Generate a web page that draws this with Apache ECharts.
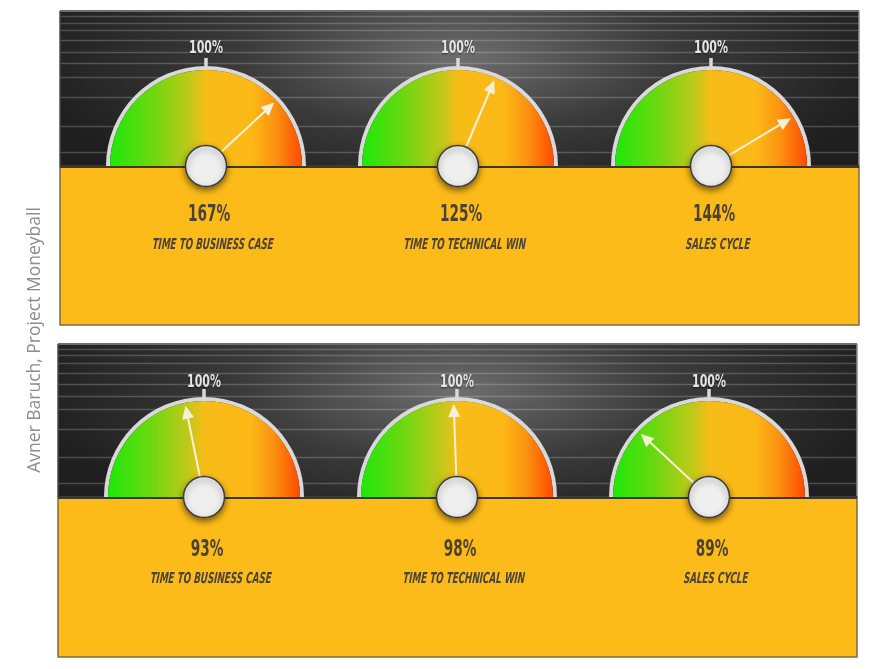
<!DOCTYPE html>
<html>
<head>
<meta charset="utf-8">
<script src="https://cdn.jsdelivr.net/npm/echarts@6/dist/echarts.min.js"></script>
<style>
  html, body { margin: 0; padding: 0; background: #ffffff; }
  #chart { width: 886px; height: 669px; }
</style>
</head>
<body>
<div id="chart"></div>
<script>
// KPI dials: actual duration as a percentage of the 100% target
const categories = ['TIME TO BUSINESS CASE', 'TIME TO TECHNICAL WIN', 'SALES CYCLE'];
const periodA = [167, 125, 144];
const periodB = [93, 98, 89];
// half of each dial's range, centred on the 100% target
const spanA = [128, 98, 67];
const spanB = [55, 90, 21];
const targetLabel = '100%';
const creditText = 'Avner Baruch, Project Moneyball';

// panel layout (pixels)
const panelLayout = [
  { x: 60, y: 11, w: 799, h: 314, base: 166, dialX: [206, 458, 711], valueDy: 49, nameDy: 79, targetDy: -117 },
  { x: 58, y: 344, w: 799, h: 313, base: 497, dialX: [204, 457, 709], valueDy: 53, nameDy: 82, targetDy: -114 }
];
const valueDx = 3;
const nameDx = 7;
const panelValues = [periodA, periodB];
const panelSpans = [spanA, spanB];
// relative heights of the horizontal rules on the dark backdrop
const ruleFractions = [0.032, 0.075, 0.123, 0.19, 0.262, 0.338, 0.425, 0.558, 0.74, 0.91];

const condensed = "'DejaVu Sans Condensed', 'DejaVu Sans', sans-serif";
const DIAL_R = 96;
const RING_W = 4;
const needleIcon = 'path://M6 0 L12 14 L7 14 L7 100 L5 100 L5 14 L0 14 Z';

const chart = echarts.init(document.getElementById('chart'), null, { renderer: 'canvas' });

const graphics = [];

// narrow display text: a regular face squeezed horizontally about its centre
// (negative skewX leans the glyph tops to the right)
function narrowText(x, y, text, font, fill, squeeze, slant, extra) {
  const el = {
    type: 'text', z: 5, x: x, y: y, scaleX: squeeze, skewX: slant || 0,
    style: { text: text, font: font, fill: fill, textAlign: 'center', textVerticalAlign: 'middle' }
  };
  if (extra) Object.assign(el.style, extra);
  graphics.push(el);
}

panelLayout.forEach(function (p) {
  const darkH = p.base - p.y;
  // dark backdrop with a soft spotlight in the middle
  graphics.push({
    type: 'rect', z: 0, x: p.x, y: p.y, scaleX: 3,
    shape: { x: 0, y: 0, width: p.w / 3, height: darkH },
    style: {
      fill: new echarts.graphic.RadialGradient(0.5, 0.3, 0.95, [
        { offset: 0, color: '#6e6e6e' },
        { offset: 0.5, color: '#3a3a3a' },
        { offset: 1, color: '#1f1f1f' }
      ])
    }
  });
  ruleFractions.forEach(function (f) {
    const yy = Math.round(p.y + f * darkH) + 0.5;
    graphics.push({
      type: 'line', z: 0,
      shape: { x1: p.x, y1: yy, x2: p.x + p.w, y2: yy },
      style: { stroke: 'rgba(255,255,255,0.2)', lineWidth: 1.5 }
    });
  });
  // frame of the dark area
  graphics.push({
    type: 'line', z: 0,
    shape: { x1: p.x, y1: p.y, x2: p.x + p.w, y2: p.y },
    style: { stroke: '#6e6e6e', lineWidth: 2 }
  });
  graphics.push({
    type: 'line', z: 0,
    shape: { x1: p.x, y1: p.y, x2: p.x, y2: p.base },
    style: { stroke: '#4a4a4a', lineWidth: 1.5 }
  });
  graphics.push({
    type: 'line', z: 0,
    shape: { x1: p.x + p.w, y1: p.y, x2: p.x + p.w, y2: p.base },
    style: { stroke: '#8c8c8c', lineWidth: 1.5 }
  });
  // yellow lower area
  graphics.push({
    type: 'rect', z: 0,
    shape: { x: p.x, y: p.base, width: p.w, height: p.y + p.h - p.base },
    style: { fill: '#fcbb18', stroke: '#7d6c3e', lineWidth: 1.5 }
  });
  // base line under the dials
  graphics.push({
    type: 'line', z: 1,
    shape: { x1: p.x, y1: p.base + 0.5, x2: p.x + p.w, y2: p.base + 0.5 },
    style: { stroke: '#3a3831', lineWidth: 3 }
  });
});

graphics.push({
  type: 'text', z: 1, x: 35, y: 340, rotation: Math.PI / 2,
  style: {
    text: creditText, fill: '#8c8c8c', font: "17.5px 'Open Sans', sans-serif",
    textAlign: 'center', textVerticalAlign: 'middle'
  }
});

function dialGradient() {
  return new echarts.graphic.LinearGradient(0, 0, 1, 0, [
    { offset: 0, color: '#1ee80a' },
    { offset: 0.22, color: '#6cd80f' },
    { offset: 0.42, color: '#c2c81a' },
    { offset: 0.5, color: '#f7bd17' },
    { offset: 0.74, color: '#fcb817' },
    { offset: 0.86, color: '#fb9310' },
    { offset: 1, color: '#ff4a00' }
  ]);
}

const series = [];
panelLayout.forEach(function (p, pi) {
  const values = panelValues[pi];
  const spans = panelSpans[pi];
  p.dialX.forEach(function (cx, j) {
    const center = [cx, p.base];
    // outer grey rim
    series.push({
      type: 'gauge', center: center, radius: DIAL_R + RING_W,
      startAngle: 180, endAngle: 0, silent: true,
      axisLine: { lineStyle: { width: RING_W, color: [[1, '#d9d9d9']] } },
      splitLine: { show: false }, axisTick: { show: false }, axisLabel: { show: false },
      pointer: { show: false }, anchor: { show: false },
      title: { show: false }, detail: { show: false },
      data: [{ value: 0 }]
    });
    // coloured dial with needle
    series.push({
      type: 'gauge', center: center, radius: DIAL_R,
      startAngle: 180, endAngle: 0,
      min: 100 - spans[j], max: 100 + spans[j],
      axisLine: { lineStyle: { width: DIAL_R, color: [[1, dialGradient()]] } },
      splitLine: { show: false }, axisTick: { show: false }, axisLabel: { show: false },
      pointer: { icon: needleIcon, length: '97%', width: 12, offsetCenter: [0, 0] },
      itemStyle: { color: '#f6f1d6' },
      anchor: {
        show: true, showAbove: true, size: 41,
        itemStyle: {
          color: '#efefef', borderColor: '#3d3d3d', borderWidth: 1.5,
          shadowBlur: 6, shadowColor: 'rgba(0,0,0,0.5)', shadowOffsetY: 3
        }
      },
      title: { show: false },
      detail: { show: false },
      data: [{ value: values[j], name: categories[j] }]
    });
    // target tick at the top of the dial
    series.push({
      type: 'gauge', center: center, radius: DIAL_R + RING_W,
      startAngle: 90.02, endAngle: 89.98, min: 0, max: 1, splitNumber: 1, silent: true,
      axisLine: { show: false, lineStyle: { width: 0 } },
      splitLine: { show: true, length: 8, distance: -8, lineStyle: { color: '#d9d9d9', width: 3 } },
      axisTick: { show: false }, axisLabel: { show: false },
      pointer: { show: false }, anchor: { show: false },
      title: { show: false }, detail: { show: false },
      data: [{ value: 0 }]
    });

    // value, name and target texts
    narrowText(cx + valueDx, p.base + p.valueDy, values[j] + '%',
      "bold 23px " + condensed, '#4a4234', 0.66, 0);
    narrowText(cx + nameDx, p.base + p.nameDy, categories[j],
      "italic bold 15px " + condensed, '#4a4234', 0.65, -0.08);
    narrowText(cx, p.base + p.targetDy, targetLabel,
      "bold 17px " + condensed, '#e6e6e6', 0.72, 0,
      { textShadowColor: 'rgba(0,0,0,0.6)', textShadowBlur: 2, textShadowOffsetY: 1 });
  });
});

chart.setOption({
  animation: false,
  backgroundColor: '#ffffff',
  graphic: { elements: graphics },
  series: series
});
</script>
</body>
</html>
